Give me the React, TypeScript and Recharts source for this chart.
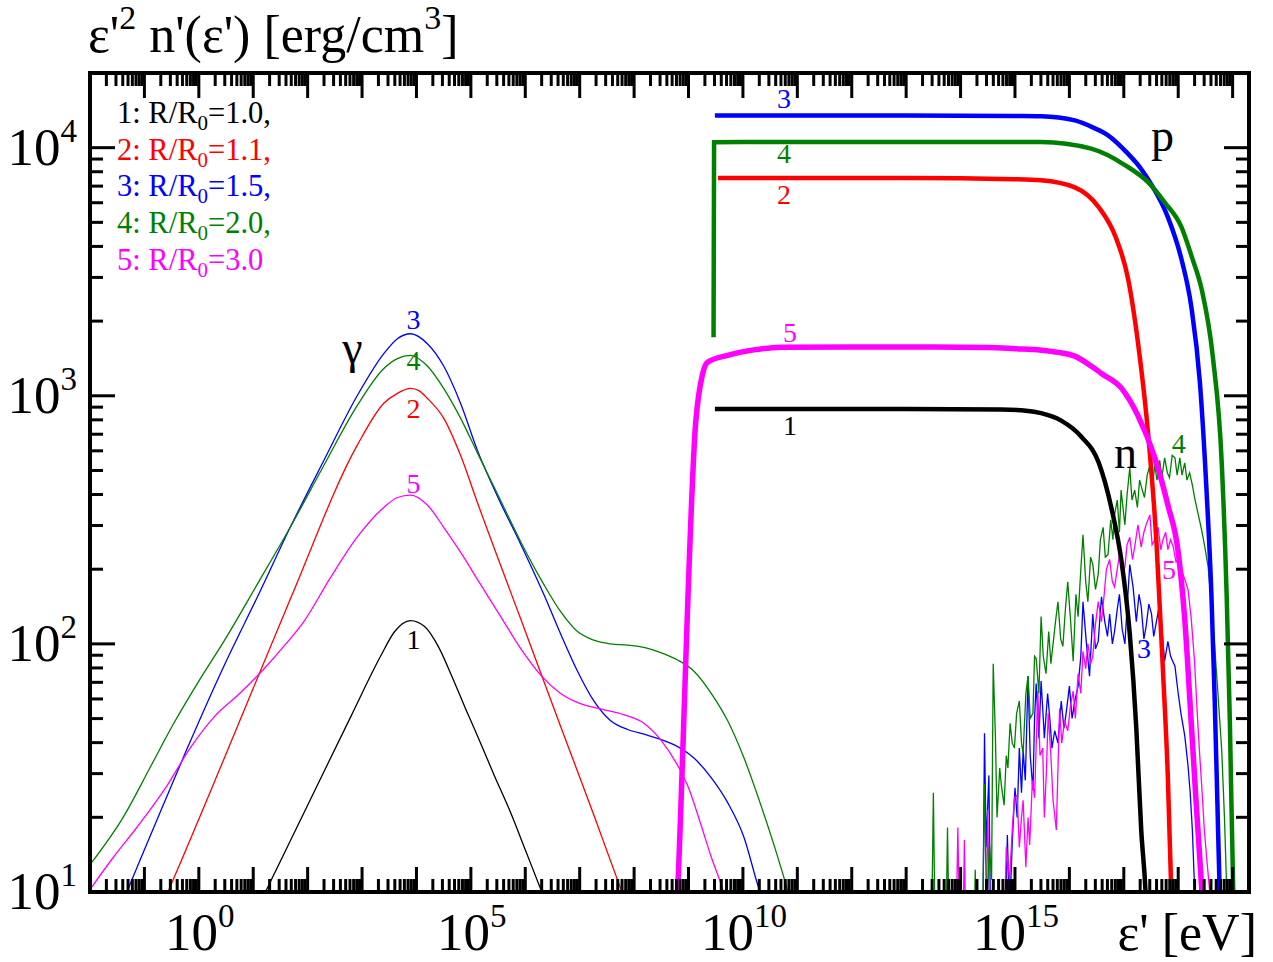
import React from "react";
import { LineChart, Line, XAxis, YAxis, ReferenceDot } from "recharts";

const WIDTH = 1273;
const HEIGHT = 962;
const SERIF = '"Liberation Serif", "Times New Roman", serif';

const BLACK = "#000000";
const RED = "#ff0000";
const BLUE = "#0000ff";
const GREEN = "#008000";
const MAGENTA = "#ff00ff";

// every pair is [log10 ε' in eV, log10 ε'^2 n'(ε') in erg/cm3]

// photons (thin lines)
const gamma1 = [[1.0, 0.9], [1.224, 1.0], [2.0, 1.35], [2.8, 1.71], [3.34, 1.95], [3.6, 2.05], [3.89, 2.094], [4.15, 2.07], [4.4, 1.99], [4.65, 1.87], [4.9, 1.74], [5.12, 1.63], [5.43, 1.47], [5.73, 1.32], [6.0, 1.17], [6.25, 1.03], [6.45, 0.92]];
const gamma2 = [[-0.77, 0.9], [-0.57, 1.0], [0.46, 1.535], [1.68, 2.18], [2.91, 2.8], [3.4, 2.97], [3.65, 3.01], [3.89, 3.03], [4.05, 3.02], [4.2, 2.99], [4.5, 2.91], [4.81, 2.76], [5.12, 2.57], [5.92, 2.098], [6.65, 1.667], [7.26, 1.31], [7.76, 1.01], [7.93, 0.91]];
const gamma3 = [[-1.5, 0.9], [-1.32, 1.0], [-0.77, 1.29], [-0.25, 1.56], [0.46, 1.91], [1.1, 2.2], [1.68, 2.47], [2.3, 2.74], [2.91, 3.0], [3.4, 3.17], [3.65, 3.23], [3.89, 3.25], [4.2, 3.21], [4.5, 3.12], [4.81, 2.97], [5.12, 2.78], [5.52, 2.58], [5.92, 2.4], [6.34, 2.2], [6.65, 2.04], [6.96, 1.89], [7.26, 1.77], [7.57, 1.69], [7.88, 1.655], [8.2, 1.635], [8.55, 1.61], [8.85, 1.58], [9.1, 1.54], [9.42, 1.46], [9.72, 1.36], [10.02, 1.22], [10.27, 1.03], [10.4, 0.94]];
const gamma4 = [[-2.0, 1.11], [-1.38, 1.305], [-0.9, 1.5], [-0.46, 1.68], [0.0, 1.85], [0.46, 2.01], [1.1, 2.25], [1.68, 2.47], [2.3, 2.72], [2.91, 2.96], [3.4, 3.11], [3.65, 3.15], [3.89, 3.163], [4.2, 3.12], [4.5, 3.03], [4.81, 2.91], [5.12, 2.77], [5.52, 2.59], [5.92, 2.41], [6.34, 2.24], [6.65, 2.13], [6.96, 2.05], [7.26, 2.015], [7.57, 2.0], [7.88, 1.995], [8.2, 1.985], [8.49, 1.965], [8.8, 1.935], [9.1, 1.89], [9.42, 1.8], [9.72, 1.69], [10.02, 1.54], [10.33, 1.35], [10.57, 1.19], [10.79, 1.03], [10.9, 0.94]];
const gamma5 = [[-2.0, 1.01], [-1.57, 1.14], [-1.14, 1.26], [-0.58, 1.43], [-0.16, 1.58], [0.3, 1.71], [0.75, 1.8], [1.2, 1.9], [1.6, 2.0], [1.93, 2.09], [2.4, 2.26], [2.91, 2.43], [3.4, 2.55], [3.65, 2.59], [3.89, 2.6], [4.2, 2.56], [4.5, 2.47], [4.81, 2.37], [5.12, 2.26], [5.52, 2.12], [5.92, 1.98], [6.3, 1.87], [6.65, 1.8], [7.0, 1.76], [7.44, 1.735], [7.8, 1.715], [8.18, 1.68], [8.5, 1.61], [8.8, 1.51], [9.0, 1.42], [9.23, 1.27], [9.42, 1.14], [9.6, 1.03], [9.7, 0.96]];

// protons (thick lines)
const proton1 = [[9.485, 2.947], [11, 2.947], [13, 2.947], [14.75, 2.945], [15.2, 2.94], [15.48, 2.93], [15.85, 2.9], [16.22, 2.835], [16.54, 2.73], [16.77, 2.55], [16.96, 2.33], [17.11, 2.04], [17.23, 1.66], [17.32, 1.25], [17.4, 1.0], [17.42, 0.9]];
const proton2 = [[9.54, 3.878], [11, 3.878], [13, 3.878], [15.0, 3.873], [15.48, 3.869], [16.1, 3.84], [16.54, 3.76], [16.85, 3.64], [17.08, 3.47], [17.26, 3.215], [17.45, 2.84], [17.6, 2.41], [17.72, 1.89], [17.81, 1.46], [17.87, 1.02], [17.89, 0.9]];
const proton3 = [[9.485, 4.13], [11, 4.13], [13, 4.13], [15.0, 4.128], [15.48, 4.127], [16.1, 4.11], [16.45, 4.08], [16.71, 4.05], [17.08, 3.975], [17.3, 3.92], [17.51, 3.85], [17.81, 3.72], [18.06, 3.55], [18.24, 3.36], [18.4, 3.05], [18.52, 2.62], [18.61, 2.2], [18.67, 1.78], [18.72, 1.36], [18.76, 1.02], [18.78, 0.9]];
const proton4 = [[9.46, 3.236], [9.47, 4.022], [11, 4.023], [13, 4.023], [15.48, 4.023], [16.4, 3.996], [17.02, 3.93], [17.45, 3.86], [17.75, 3.78], [18.06, 3.68], [18.25, 3.56], [18.43, 3.43], [18.64, 3.15], [18.8, 2.73], [18.89, 2.2], [18.95, 1.68], [19.01, 1.02], [19.03, 0.9]];
const proton5 = [[8.78, 0.9], [8.8, 1.0], [9.135, 2.9], [9.26, 3.089], [9.35, 3.135], [9.72, 3.163], [10.2, 3.185], [10.7, 3.196], [12, 3.197], [13.5, 3.197], [14.5, 3.195], [15.0, 3.19], [15.48, 3.184], [15.8, 3.175], [16.1, 3.16], [16.4, 3.12], [16.59, 3.09], [16.96, 3.03], [17.26, 2.92], [17.57, 2.75], [17.81, 2.56], [18.0, 2.37], [18.12, 2.1], [18.24, 1.68], [18.33, 1.36], [18.43, 1.02], [18.46, 0.9]];

// neutrons (thin noisy lines); values below 1 lie under the frame
const neutron3 = [[14.4, 0.6], [14.44, 1.64], [14.47, 1.18], [14.52, 1.47], [14.55, 0.9], [14.6, 0.6], [14.8, 0.6], [14.86, 1.23], [14.9, 0.9], [14.95, 1.2], [15.0, 1.42], [15.04, 1.3], [15.08, 1.58], [15.12, 1.4], [15.15, 1.57], [15.19, 1.45], [15.24, 1.87], [15.28, 1.55], [15.33, 1.41], [15.36, 1.7], [15.39, 1.84], [15.44, 1.62], [15.48, 1.85], [15.52, 1.7], [15.54, 1.62], [15.6, 1.8], [15.64, 1.7], [15.68, 1.58], [15.73, 1.65], [15.79, 1.6], [15.85, 1.77], [15.9, 1.66], [15.94, 1.72], [16.0, 1.83], [16.05, 1.7], [16.1, 1.77], [16.16, 1.83], [16.21, 1.95], [16.25, 2.17], [16.31, 2.01], [16.37, 1.87], [16.43, 2.12], [16.48, 1.98], [16.53, 2.01], [16.59, 2.19], [16.65, 2.09], [16.7, 2.03], [16.74, 2.12], [16.79, 2.0], [16.83, 2.05], [16.88, 2.14], [16.92, 2.2], [16.97, 2.06], [17.02, 2.0], [17.07, 2.18], [17.11, 2.32], [17.17, 2.23], [17.23, 2.09], [17.28, 2.2], [17.32, 2.15], [17.37, 2.02], [17.41, 2.07], [17.46, 2.16], [17.51, 2.12], [17.55, 2.03], [17.6, 2.09], [17.64, 2.14], [17.69, 2.08], [17.75, 1.93], [17.81, 2.01], [17.86, 1.95], [17.94, 1.91], [18.0, 1.8], [18.05, 1.72], [18.12, 1.63], [18.18, 1.51], [18.22, 1.4], [18.26, 1.25], [18.3, 1.02], [18.33, 0.8]];
const neutron4 = [[13.45, 0.5], [13.5, 1.4], [13.55, 0.5], [13.71, 0.5], [13.76, 1.26], [13.81, 0.5], [14.22, 0.5], [14.27, 1.09], [14.31, 0.6], [14.4, 0.8], [14.44, 1.435], [14.48, 0.9], [14.53, 1.2], [14.57, 1.05], [14.6, 1.92], [14.64, 1.63], [14.67, 1.3], [14.72, 1.5], [14.75, 1.43], [14.8, 1.35], [14.84, 1.55], [14.87, 1.5], [14.91, 1.68], [14.95, 1.6], [14.99, 1.58], [15.03, 1.72], [15.08, 1.77], [15.12, 1.6], [15.15, 1.56], [15.2, 1.8], [15.24, 1.87], [15.28, 1.7], [15.33, 1.72], [15.36, 1.95], [15.39, 1.94], [15.44, 1.8], [15.48, 2.11], [15.52, 1.95], [15.57, 1.88], [15.62, 2.05], [15.66, 1.92], [15.7, 2.0], [15.75, 2.1], [15.79, 2.17], [15.84, 2.02], [15.88, 1.99], [15.93, 2.15], [15.97, 2.25], [16.02, 2.1], [16.07, 1.93], [16.12, 2.2], [16.16, 2.11], [16.21, 2.3], [16.25, 2.44], [16.3, 2.25], [16.34, 2.17], [16.39, 2.35], [16.43, 2.32], [16.48, 2.22], [16.53, 2.28], [16.57, 2.42], [16.62, 2.47], [16.66, 2.35], [16.71, 2.36], [16.76, 2.5], [16.8, 2.42], [16.83, 2.52], [16.88, 2.58], [16.92, 2.45], [16.95, 2.62], [17.02, 2.48], [17.06, 2.6], [17.11, 2.71], [17.15, 2.58], [17.2, 2.62], [17.25, 2.55], [17.29, 2.66], [17.34, 2.62], [17.38, 2.59], [17.43, 2.68], [17.48, 2.72], [17.52, 2.63], [17.57, 2.72], [17.61, 2.66], [17.66, 2.74], [17.7, 2.67], [17.75, 2.75], [17.8, 2.69], [17.84, 2.67], [17.89, 2.76], [17.94, 2.75], [17.98, 2.68], [18.03, 2.75], [18.07, 2.68], [18.12, 2.73], [18.16, 2.66], [18.21, 2.69], [18.26, 2.64], [18.31, 2.58], [18.37, 2.52], [18.43, 2.46], [18.49, 2.39], [18.55, 2.31], [18.61, 2.16], [18.67, 1.99], [18.73, 1.8], [18.8, 1.57], [18.85, 1.3], [18.89, 1.02], [18.93, 0.8]];
const neutron5 = [[13.9, 0.6], [13.95, 1.26], [14.0, 0.6], [14.03, 0.6], [14.07, 1.21], [14.11, 0.6], [14.45, 0.6], [14.5, 1.33], [14.54, 0.7], [14.62, 0.6], [14.7, 0.9], [14.8, 0.8], [14.84, 1.18], [14.9, 1.05], [14.95, 1.25], [14.99, 1.38], [15.04, 1.39], [15.08, 1.18], [15.12, 1.3], [15.15, 1.37], [15.2, 1.1], [15.24, 1.3], [15.27, 1.19], [15.32, 1.45], [15.36, 1.38], [15.42, 1.81], [15.46, 1.55], [15.51, 1.58], [15.54, 1.3], [15.58, 1.5], [15.61, 1.72], [15.66, 1.55], [15.7, 1.37], [15.76, 1.25], [15.82, 1.74], [15.86, 1.6], [15.91, 1.69], [15.97, 1.65], [16.02, 1.75], [16.07, 1.81], [16.11, 1.7], [16.16, 1.88], [16.21, 1.8], [16.25, 1.97], [16.3, 1.9], [16.34, 2.0], [16.39, 1.92], [16.43, 1.95], [16.48, 2.08], [16.53, 2.17], [16.59, 2.09], [16.64, 2.2], [16.68, 2.3], [16.74, 2.34], [16.79, 2.25], [16.83, 2.23], [16.88, 2.3], [16.92, 2.36], [16.97, 2.28], [17.02, 2.31], [17.06, 2.4], [17.11, 2.43], [17.16, 2.34], [17.2, 2.39], [17.26, 2.48], [17.32, 2.39], [17.37, 2.45], [17.41, 2.48], [17.48, 2.52], [17.52, 2.4], [17.57, 2.42], [17.63, 2.47], [17.68, 2.38], [17.72, 2.42], [17.77, 2.45], [17.81, 2.38], [17.86, 2.42], [17.91, 2.39], [17.96, 2.33], [18.0, 2.34], [18.06, 2.3], [18.12, 2.26], [18.18, 2.22], [18.24, 2.1], [18.3, 1.93], [18.35, 1.72], [18.39, 1.57], [18.44, 1.4], [18.48, 1.25], [18.53, 1.12], [18.58, 1.0], [18.62, 0.8]];

// axis ranges and labelled decades
const xRange: [number, number] = [1e-2, 2e19];
const yRange: [number, number] = [10, 2e4];
const xLabelDecades = [0, 5, 10, 15];
const yLabelDecades = [1, 2, 3, 4];

const legendRows = [
  { id: "1", ratio: "1.0,", color: BLACK },
  { id: "2", ratio: "1.1,", color: RED },
  { id: "3", ratio: "1.5,", color: BLUE },
  { id: "4", ratio: "2.0,", color: GREEN },
  { id: "5", ratio: "3.0", color: MAGENTA },
];

// curve tags, anchored in [log10 x, log10 y] at the text baseline centre
const curveTags = [
  { text: "γ", at: [2.824, 3.134], color: BLACK, big: true },
  { text: "3", at: [3.947, 3.271], color: BLUE },
  { text: "4", at: [3.947, 3.102], color: GREEN },
  { text: "2", at: [3.947, 2.912], color: RED },
  { text: "5", at: [3.947, 2.61], color: MAGENTA },
  { text: "1", at: [3.947, 1.981], color: BLACK },
  { text: "3", at: [10.755, 4.158], color: BLUE },
  { text: "4", at: [10.755, 3.937], color: GREEN },
  { text: "2", at: [10.755, 3.775], color: RED },
  { text: "5", at: [10.865, 3.215], color: MAGENTA },
  { text: "1", at: [10.865, 2.84], color: BLACK },
  { text: "p", at: [17.71, 3.985], color: BLACK, big: true },
  { text: "n", at: [17.03, 2.707], color: BLACK, big: true },
  { text: "4", at: [18.01, 2.771], color: GREEN },
  { text: "5", at: [17.83, 2.263], color: MAGENTA },
  { text: "3", at: [17.37, 1.945], color: BLUE },
];

const toPoints = (pairs: number[][]) => pairs.map(([e, v]) => ({ x: Math.pow(10, e), y: Math.pow(10, v) }));

const series = [
  { key: "g1", pairs: gamma1, color: BLACK, width: 1.3, curve: "monotone" },
  { key: "g2", pairs: gamma2, color: RED, width: 1.3, curve: "monotone" },
  { key: "g3", pairs: gamma3, color: BLUE, width: 1.3, curve: "monotone" },
  { key: "g4", pairs: gamma4, color: GREEN, width: 1.3, curve: "monotone" },
  { key: "g5", pairs: gamma5, color: MAGENTA, width: 1.3, curve: "monotone" },
  { key: "n3", pairs: neutron3, color: BLUE, width: 1.3, curve: "linear" },
  { key: "n5", pairs: neutron5, color: MAGENTA, width: 1.3, curve: "linear" },
  { key: "n4", pairs: neutron4, color: GREEN, width: 1.3, curve: "linear" },
  { key: "p1", pairs: proton1, color: BLACK, width: 4.5, curve: "monotone" },
  { key: "p2", pairs: proton2, color: RED, width: 4.5, curve: "monotone" },
  { key: "p3", pairs: proton3, color: BLUE, width: 4.5, curve: "monotone" },
  { key: "p4", pairs: proton4, color: GREEN, width: 4.5, curve: "monotone" },
  { key: "p5", pairs: proton5, color: MAGENTA, width: 5.5, curve: "monotone" },
];

// 1..9 x 10^k ticks inside a range
function logTicks(lo: number, hi: number) {
  const out: number[] = [];
  for (let k = Math.floor(Math.log10(lo)); k <= Math.ceil(Math.log10(hi)); k++) {
    for (let m = 1; m <= 9; m++) {
      const v = m * Math.pow(10, k);
      if (v >= lo * 0.999 && v <= hi * 1.001) out.push(v);
    }
  }
  return out;
}

const xTicks = logTicks(xRange[0], xRange[1]);
const yTicks = logTicks(yRange[0], yRange[1]);

const frameLine = { stroke: "#000", strokeWidth: 4, strokeLinecap: "square" as const };

function Power({ exp, ...rest }: any) {
  return (
    <text fontFamily={SERIF} fontSize={53} fill="#000" {...rest}>
      10
      <tspan fontSize={33} dy={-23}>{exp}</tspan>
    </text>
  );
}

function AxisTick(props: any) {
  const { x, y, payload, side } = props;
  const e = Math.log10(payload.value);
  const exp = Math.round(e);
  const major = Math.abs(e - exp) < 1e-6;
  const len = major ? 25 : 13;
  let line;
  let label = null;
  if (side === "bottom") {
    line = <line x1={x} y1={y} x2={x} y2={y - len} />;
    if (major && xLabelDecades.includes(exp)) label = <Power exp={exp} x={x + 1} y={y + 58} textAnchor="middle" />;
  } else if (side === "top") {
    line = <line x1={x} y1={y} x2={x} y2={y + len} />;
  } else if (side === "left") {
    line = <line x1={x} y1={y} x2={x + len} y2={y} />;
    if (major && yLabelDecades.includes(exp)) label = <Power exp={exp} x={x - 13} y={y + 17} textAnchor="end" />;
  } else {
    line = <line x1={x} y1={y} x2={x - len} y2={y} />;
  }
  return (
    <g>
      <g stroke="#000" strokeWidth={3}>{line}</g>
      {label}
    </g>
  );
}

export default function App() {
  return (
    <div style={{ position: "relative", width: WIDTH, height: HEIGHT, background: "#fff" }}>
      <style>{"body{margin:0}"}</style>
      <LineChart width={WIDTH} height={HEIGHT} margin={{ top: 43, right: 0, bottom: 0, left: 0 }}>
        <XAxis xAxisId="b" type="number" dataKey="x" scale="log" domain={xRange} allowDataOverflow
          ticks={xTicks} interval={0} tickSize={0} tickMargin={0} tickLine={false} axisLine={frameLine}
          height={70} orientation="bottom" tick={(p: any) => <AxisTick {...p} side="bottom" />} />
        <XAxis xAxisId="t" type="number" dataKey="x" scale="log" domain={xRange} allowDataOverflow
          ticks={xTicks} interval={0} tickSize={0} tickMargin={0} tickLine={false} axisLine={frameLine}
          height={30} orientation="top" tick={(p: any) => <AxisTick {...p} side="top" />} />
        <YAxis yAxisId="l" type="number" scale="log" domain={yRange} allowDataOverflow
          ticks={yTicks} interval={0} tickSize={0} tickMargin={0} tickLine={false} axisLine={frameLine}
          width={90} orientation="left" tick={(p: any) => <AxisTick {...p} side="left" />} />
        <YAxis yAxisId="r" type="number" scale="log" domain={yRange} allowDataOverflow
          ticks={yTicks} interval={0} tickSize={0} tickMargin={0} tickLine={false} axisLine={frameLine}
          width={24} orientation="right" tick={(p: any) => <AxisTick {...p} side="right" />} />
        {series.map((s) => (
          <Line key={s.key} xAxisId="b" yAxisId="l" data={toPoints(s.pairs)} dataKey="y"
            type={s.curve as any} stroke={s.color} strokeWidth={s.width} dot={false}
            activeDot={false} isAnimationActive={false} />
        ))}
        {curveTags.map((t, i) => (
          <ReferenceDot key={i} xAxisId="b" yAxisId="l" x={Math.pow(10, t.at[0])} y={Math.pow(10, t.at[1])}
            r={0} ifOverflow="visible"
            shape={(p: any) => (
              <text x={p.cx} y={p.cy} textAnchor="middle" fontFamily={SERIF}
                fontSize={t.big ? 46 : 28} fill={t.color}>{t.text}</text>
            )} />
        ))}
      </LineChart>
      <svg width={WIDTH} height={HEIGHT} style={{ position: "absolute", left: 0, top: 0, pointerEvents: "none" }}>
        <text x={88} y={52} fontFamily={SERIF} fontSize={52} fill="#000">
          ε'<tspan fontSize={34} dy={-23}>2</tspan>
          <tspan dy={23}> n'(ε') [erg/cm</tspan>
          <tspan fontSize={34} dy={-23}>3</tspan>
          <tspan dy={23}>]</tspan>
        </text>
        <text x={1257} y={950} textAnchor="end" fontFamily={SERIF} fontSize={52} fill="#000">ε' [eV]</text>
        {legendRows.map((r, i) => (
          <text key={r.id} x={117} y={123 + i * 36.7} fontFamily={SERIF} fontSize={30.5} fill={r.color}>
            {r.id}: R/R<tspan fontSize={21} dy={7}>0</tspan>
            <tspan dy={-7}>={r.ratio}</tspan>
          </text>
        ))}
      </svg>
    </div>
  );
}
